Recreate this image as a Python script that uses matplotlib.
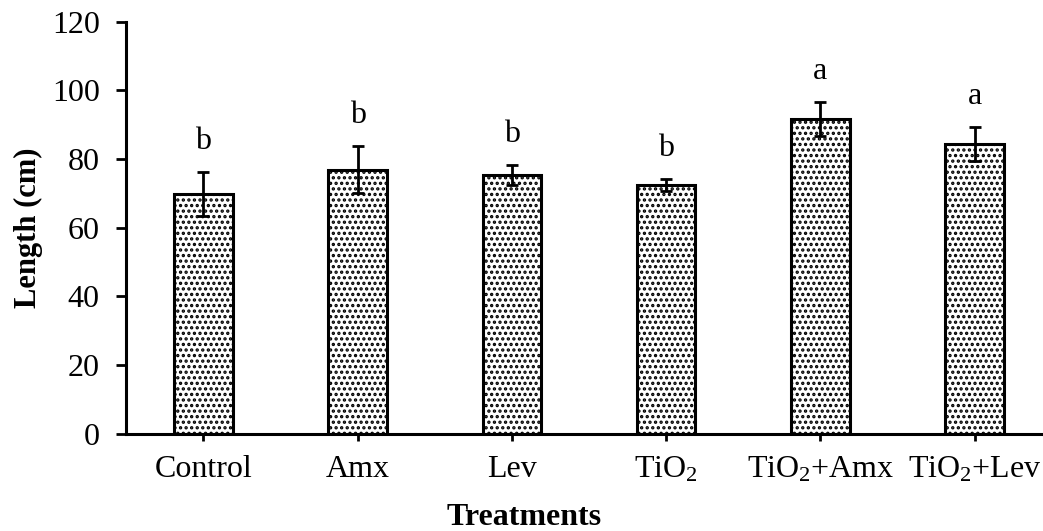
import matplotlib.pyplot as plt
import numpy as np

plt.rcParams['font.family'] = ['Liberation Serif', 'DejaVu Serif']
plt.rcParams['mathtext.fontset'] = 'custom'
plt.rcParams['mathtext.rm'] = 'Liberation Serif'
plt.rcParams['mathtext.it'] = 'Liberation Serif:italic'
plt.rcParams['mathtext.bf'] = 'Liberation Serif:bold'
plt.rcParams['hatch.linewidth'] = 1.6

# data
treatments = ["Control", "Amx", "Lev", "TiO$_2$", "TiO$_2$+Amx", "TiO$_2$+Lev"]
lengths = [69.9, 76.9, 75.3, 72.5, 91.7, 84.4]
errors = [6.4, 6.8, 2.9, 1.7, 4.85, 4.9]
letters = ["b", "b", "b", "b", "a", "a"]

fig = plt.figure(figsize=(10.43, 5.31), dpi=100)
ax = fig.add_axes([0.121, 0.183, 0.877, 0.776])

x = np.arange(len(treatments))
ax.bar(x, lengths, width=0.38, color="white", edgecolor="black",
       linewidth=2.2, hatch="...", zorder=2)
ax.errorbar(x, lengths, yerr=errors, fmt="none", ecolor="black",
            elinewidth=2, capsize=4.5, capthick=2, zorder=3)

for xi, v, e, lab in zip(x, lengths, errors, letters):
    ax.text(xi, v + e + 6.7, lab, ha="center", va="baseline", fontsize=23)

ax.set_xlim(-0.5, 5.43)
ax.set_ylim(0, 120)
ax.set_yticks(range(0, 121, 20))
ax.set_xticks(x)
ax.set_xticklabels(treatments)

for s in ["top", "right"]:
    ax.spines[s].set_visible(False)
for s in ["left", "bottom"]:
    ax.spines[s].set_linewidth(2.2)

ax.tick_params(axis="y", direction="out", length=7, width=2, labelsize=23, pad=12)
ax.tick_params(axis="x", direction="out", length=5, width=2, labelsize=23, pad=10)

ax.set_ylabel("Length (cm)", fontsize=22, fontweight="bold")
ax.set_xlabel("Treatments", fontsize=23, fontweight="bold")
ax.yaxis.set_label_coords(-0.091, 0.5)
ax.xaxis.set_label_coords(0.435, -0.168)

fig.savefig("out.png", dpi=100)
